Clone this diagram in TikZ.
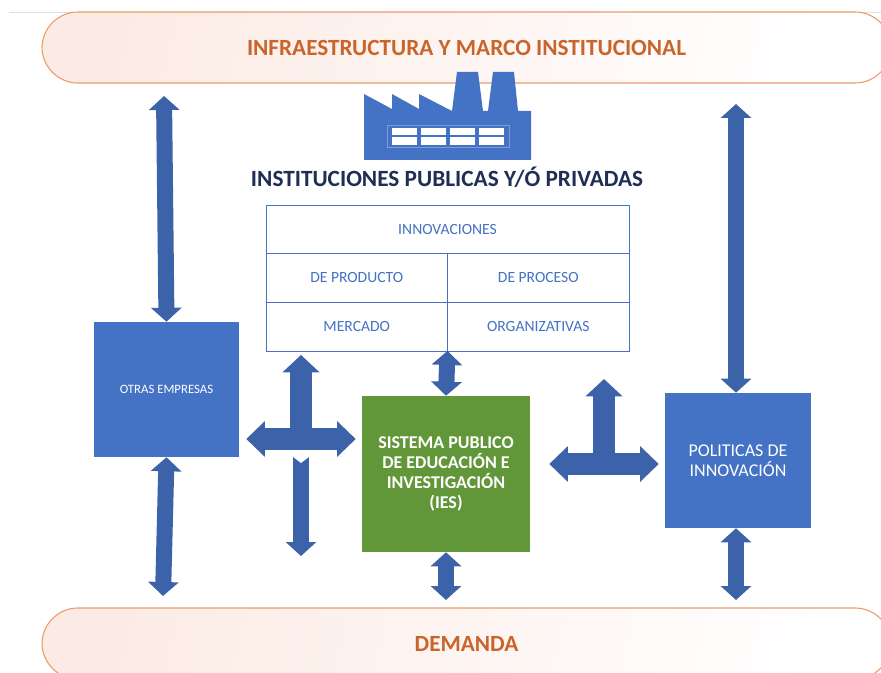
\documentclass[tikz,border=0pt]{standalone}
\usepackage{fontspec}
\setmainfont{Carlito}
\usetikzlibrary{arrows.meta,positioning}
\definecolor{azulcaja}{HTML}{4472C4}
\definecolor{azulflecha}{HTML}{3C63AA}
\definecolor{verdecaja}{HTML}{619738}
\definecolor{naranja}{HTML}{C9652A}
\definecolor{borde}{HTML}{EC9A68}
\definecolor{rosa}{HTML}{FCEBE5}
\definecolor{marino}{HTML}{1F2E54}
\tikzset{
	banda/.style={draw=borde,line width=.8pt,left color=rosa,right color=white,shading angle=75,rounded corners=27pt,minimum width=636.75pt,minimum height=53.25pt,text=naranja,font=\bfseries\fontsize{17.4}{20}\selectfont},
	caja/.style={fill=azulcaja,text=white,align=center,inner sep=0pt},
	celda/.style={draw=azulcaja,line width=.6pt,text=azulcaja,minimum height=36.5pt,inner sep=0pt,outer sep=0pt,font=\fontsize{11.7}{14}\selectfont},
	flechafina/.style={azulflecha,line width=12pt,{Triangle[length=10.5pt,width=22.5pt]}-{Triangle[length=10.5pt,width=22.5pt]}},
	flechagorda/.style={azulflecha,line width=16pt,{Triangle[length=14pt,width=26pt]}-{Triangle[length=14pt,width=26pt]}},
	flechasube/.style={azulflecha,line width=16pt,-{Triangle[length=13pt,width=27pt]}},
	flechabaja/.style={azulflecha,line width=12pt,-{Triangle[length=10.5pt,width=22.5pt]}}
}
\begin{document}
\begin{tikzpicture}[x=.75pt,y=-.75pt]
	\useasboundingbox[fill=white] (0,0) rectangle (881,673);
	\draw[black!12,line width=.4pt] (9,12) -- (881,12);
	% bandas
	\node[banda] (infra) at (466.5,47.5) {INFRAESTRUCTURA Y MARCO INSTITUCIONAL};
	\node[banda] (demanda) at (466.5,643.5) {DEMANDA};
	% fabrica
	\fill[azulcaja] (364,94) -- (392,109) -- (392,94) -- (419,109) -- (419,94) -- (452,111) -- (457,72) -- (478,72) -- (483,111) -- (488,111) -- (493,72) -- (514,72) -- (518,111) -- (531,111) -- (531,160) -- (364,160) -- cycle;
	\draw[white!30!azulcaja,line width=.5pt] (387,125) rectangle (509,147);
	\foreach \x in {392,421,450,479}{
		\fill[white] (\x,128) rectangle ++(25,7);
		\fill[white] (\x,137) rectangle ++(25,8);
	}
	\node[text=marino,font=\bfseries\fontsize{17.45}{20}\selectfont,inner sep=0pt] (titulo) at (447,177) {INSTITUCIONES PUBLICAS Y/Ó PRIVADAS};
	% tabla
	\node[celda,minimum width=272.25pt] (innov) at (447.5,229.3) {INNOVACIONES};
	\node[celda,minimum width=136.1pt,below=0pt of innov.south west,anchor=north west] (producto) {DE PRODUCTO};
	\node[celda,minimum width=136.1pt,below=0pt of innov.south east,anchor=north east] (proceso) {DE PROCESO};
	\node[celda,minimum width=136.1pt,below=0pt of producto] (mercado) {MERCADO};
	\node[celda,minimum width=136.1pt,below=0pt of proceso] (organiza) {ORGANIZATIVAS};
	% cajas
	\node[caja,minimum width=108.75pt,minimum height=101.25pt,font=\fontsize{9.6}{12}\selectfont] (otras) at (166.5,389.5) {OTRAS EMPRESAS};
	\node[caja,fill=verdecaja,minimum width=126pt,minimum height=117pt,font=\bfseries\fontsize{13.5}{15}\selectfont] (ies) at (446,474) {SISTEMA PUBLICO\\DE EDUCACIÓN E\\INVESTIGACIÓN\\(IES)};
	\node[caja,minimum width=109.5pt,minimum height=101.25pt,font=\fontsize{13.5}{15}\selectfont] (politicas) at (738,460.5) {POLITICAS DE\\INNOVACIÓN};
	% puntos libres
	\coordinate (otrasarriba) at (164,96);
	\coordinate (otrasabajo) at (163,596);
	\coordinate (polarriba) at (736,104);
	\coordinate (polabajo) at (736,600);
	\coordinate (iesabajo) at (446,600);
	\coordinate (cruce) at (301,439);
	\coordinate (crucesur) at (301,457);
	\coordinate (crucefin) at (301,556);
	\coordinate (te) at (604,464);
	\coordinate (tearriba) at (604,379);
	% flechas
	\draw[flechafina] (otrasarriba) -- (otras.north);
	\draw[flechafina] (otras.south) -- (otrasabajo);
	\draw[flechafina] (polarriba) -- (polarriba |- politicas.north);
	\draw[flechafina] (polabajo |- politicas.south) -- (polabajo);
	\draw[flechafina] (mercado.south east) -- (ies.north);
	\draw[flechafina] (ies.south) -- (iesabajo);
	\draw[flechagorda,shorten <=5.25pt,shorten >=4.5pt] (otras.east |- cruce) -- (ies.west |- cruce);
	\draw[flechasube,shorten >=3pt] (cruce) -- (cruce |- mercado.south);
	\draw[flechabaja] (crucesur) -- (crucefin);
	\fill[white] (292.5,456.5) -- (301,463) -- (309.5,456.5) -- cycle;
	\draw[flechagorda,shorten <=14.25pt,shorten >=4.5pt] (ies.east |- te) -- (politicas.west |- te);
	\draw[flechasube] (te) -- (tearriba);
\end{tikzpicture}
\end{document}
